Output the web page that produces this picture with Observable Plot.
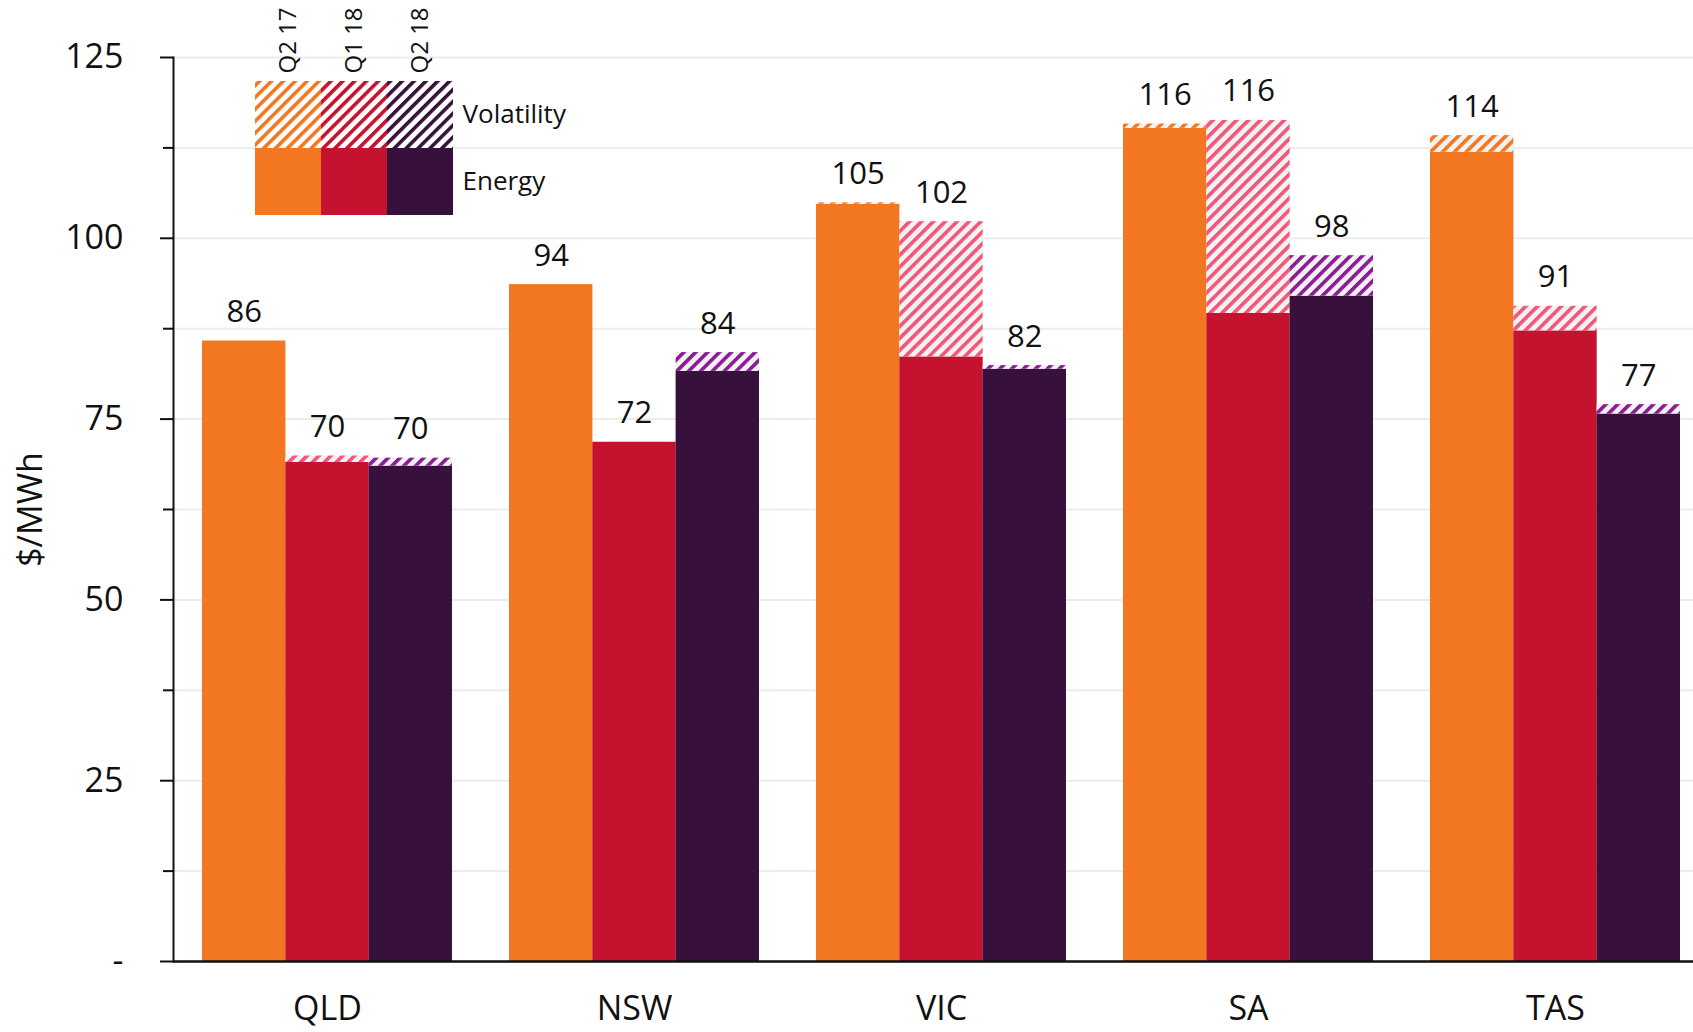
<!DOCTYPE html>
<html>
<head>
<meta charset="utf-8">
<script src="https://cdn.jsdelivr.net/npm/d3@7"></script>
<script src="https://cdn.jsdelivr.net/npm/@observablehq/plot@0.6"></script>
<style>
  body { margin: 0; background: #fff; }
  #wrap { position: relative; width: 1693px; height: 1032px; font-family: "Open Sans", sans-serif; }
  #legend { position: absolute; left: 255px; top: 0; }
</style>
</head>
<body>
<svg id="defs" width="0" height="0" style="position:absolute"></svg>
<div id="wrap"><div id="chart"></div><div id="legend"></div></div>
<script>
// ---- Data ----
const states = ["QLD", "NSW", "VIC", "SA", "TAS"];
const periods = ["Q2 17", "Q1 18", "Q2 18"];
const energyQ217 = [85.8, 93.6, 104.7, 115.2, 111.9];
const volatilityQ217 = [0, 0, 0.2, 0.6, 2.3];
const energyQ118 = [69.0, 71.8, 83.6, 89.6, 87.2];
const volatilityQ118 = [0.9, 0, 18.7, 26.7, 3.4];
const energyQ218 = [68.5, 81.6, 81.9, 92.0, 75.7];
const volatilityQ218 = [1.1, 2.6, 0.5, 5.6, 1.3];
const majorTicks = [0, 25, 50, 75, 100, 125];
const minorTicks = [12.5, 37.5, 62.5, 87.5, 112.5];
const components = ["Volatility", "Energy"];
const yLabel = "$/MWh";

// ---- Styles ----
const energyColors = ["#F37721", "#C4122F", "#38103C"];
const hatchColors = ["#F37721", "#F2567A", "#8B1A96"];
const font = '"Open Sans", sans-serif';

// patterns
const defs = d3.select("#defs").append("defs");
function hatch(id, bg, stripe) {
  const s = 8.4;
  const p = defs.append("pattern").attr("id", id).attr("patternUnits", "userSpaceOnUse")
    .attr("width", s).attr("height", s).attr("patternTransform", "rotate(45)");
  p.append("rect").attr("width", s).attr("height", s).attr("fill", bg);
  p.append("rect").attr("width", 3.6).attr("height", s).attr("fill", stripe);
}
periods.forEach((p, j) => {
  hatch("hatch" + j, "#F2F2F2", hatchColors[j]);
  hatch("lhatch" + j, "#FFFFFF", energyColors[j]);
});

// ---- Tidy rows ----
const energyBy = [energyQ217, energyQ118, energyQ218];
const volBy = [volatilityQ217, volatilityQ118, volatilityQ218];
const rows = states.flatMap((s, i) => periods.map((p, j) => ({
  state: s, period: p, pi: j,
  energy: energyBy[j][i], vol: volBy[j][i], total: energyBy[j][i] + volBy[j][i]
})));

// ---- Layout ----
const W = 1693, H = 1032, mL = 173, mR = 0, mT = 57, mB = 71;
const pInner = 0.186, pOuter = 0.0684;
const step = (W - mL - mR) / (states.length - pInner + 2 * pOuter);
const bw = step * (1 - pInner);
const sub = bw / 3;

const marks = [
  Plot.gridY(majorTicks.concat(minorTicks), {stroke: "#ececec", strokeOpacity: 1, strokeWidth: 2})
];
periods.forEach((p, j) => {
  const data = rows.filter(d => d.pi === j);
  const ins = {insetLeft: j * sub, insetRight: (2 - j) * sub};
  marks.push(Plot.barY(data, {x: "state", y1: 0, y2: "energy", fill: energyColors[j], ...ins}));
  marks.push(Plot.barY(data.filter(d => d.vol > 0), {x: "state", y1: "energy", y2: "total", fill: `url(#hatch${j})`, ...ins}));
  marks.push(Plot.text(data, {x: "state", y: "total", text: d => String(Math.round(d.total)),
    dx: (j - 1) * sub, dy: -19, lineAnchor: "bottom", fontSize: 31, fill: "#111"}));
});
marks.push(
  Plot.axisY({ticks: majorTicks, tickSize: 13, tickPadding: 37, strokeWidth: 2,
    tickFormat: d => d === 0 ? "-" : String(d), fontSize: 34, fill: "#111",
    label: yLabel, labelAnchor: "center", labelOffset: 156, labelArrow: "none"}),
  Plot.axisY({ticks: minorTicks, tickSize: 10, strokeWidth: 2, tickFormat: () => "", label: null}),
  Plot.axisX({tickSize: 0, tickPadding: 34, fontSize: 34, fill: "#111", label: null}),
  Plot.frame({anchor: "left", strokeWidth: 2}),
  Plot.ruleY([0], {strokeWidth: 2.5})
);

const chart = Plot.plot({
  width: W, height: H, marginLeft: mL, marginRight: mR, marginTop: mT, marginBottom: mB,
  x: {domain: states, paddingInner: pInner, paddingOuter: pOuter, align: 0.69},
  y: {domain: [0, 125]},
  style: {fontFamily: font, color: "#111", background: "transparent"},
  marks
});
document.getElementById("chart").appendChild(chart);

// ---- Legend (second Plot) ----
const legendRows = periods.flatMap((p, j) => [
  {period: p, type: "Volatility", fill: `url(#lhatch${j})`},
  {period: p, type: "Energy", fill: energyColors[j]}
]);
const legend = Plot.plot({
  width: 345, height: 215, marginLeft: 0, marginRight: 147, marginTop: 81, marginBottom: 0,
  x: {domain: periods, padding: 0},
  y: {domain: components, padding: 0},
  color: {type: "identity"},
  style: {fontFamily: font, color: "#111", background: "transparent"},
  marks: [
    Plot.cell(legendRows, {x: "period", y: "type", fill: "fill"}),
    Plot.axisX({anchor: "top", tickRotate: -90, tickSize: 0, tickPadding: 8, fontSize: 24, fill: "#111", label: null}),
    Plot.axisY({anchor: "right", tickSize: 0, tickPadding: 9, fontSize: 26, fill: "#111", label: null})
  ]
});
document.getElementById("legend").appendChild(legend);
</script>
</body>
</html>
